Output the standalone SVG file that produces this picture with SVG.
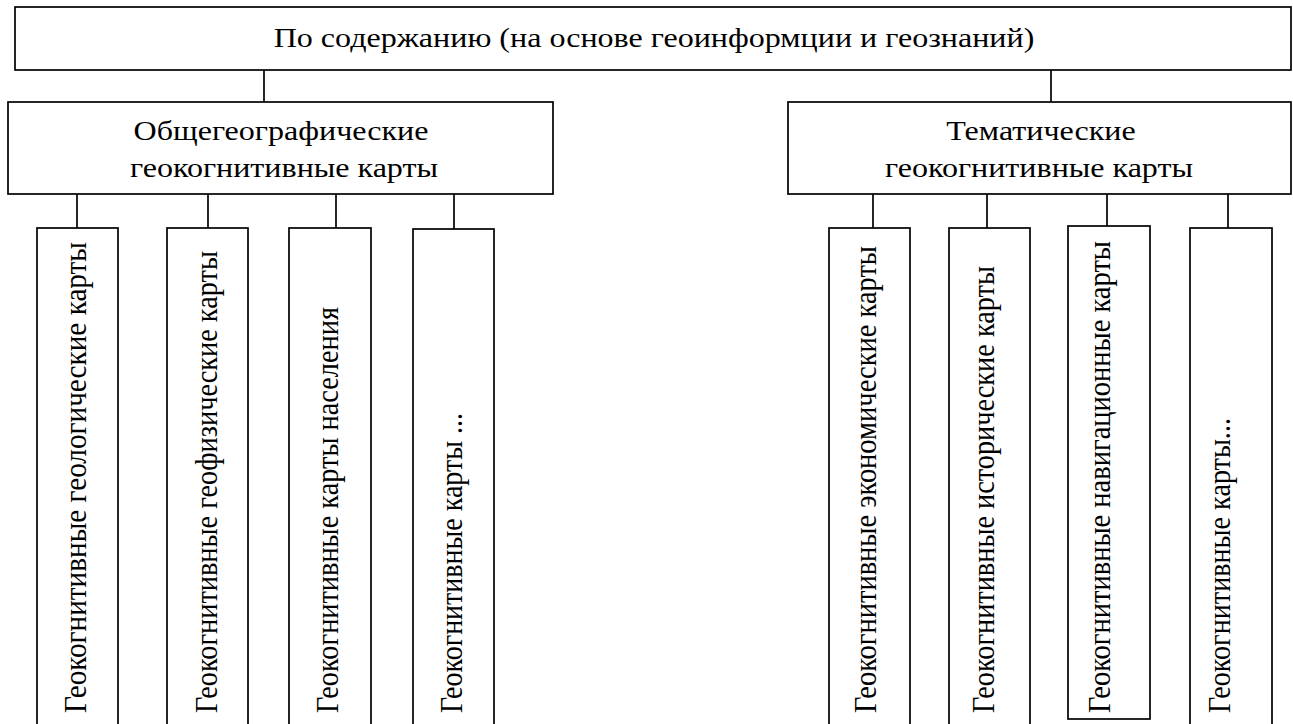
<svg xmlns="http://www.w3.org/2000/svg" width="1293" height="724" viewBox="0 0 1293 724">
<style>
.box{fill:#fff;stroke:#000;stroke-width:1.7}
.ln{stroke:#000;stroke-width:1.7;fill:none}
.t{font-family:"Liberation Serif","Times New Roman",serif;font-size:27px;fill:#000;text-anchor:middle}
.v{font-family:"Liberation Serif","Times New Roman",serif;font-size:28.5px;fill:#000}
</style>
<rect width="1293" height="724" fill="#fff"/>
<g id="connectors">
<line class="ln" x1="264" y1="70" x2="264" y2="102"/>
<line class="ln" x1="1051" y1="70" x2="1051" y2="102"/>
<line class="ln" x1="77" y1="194" x2="77" y2="228"/>
<line class="ln" x1="208" y1="194" x2="208" y2="228"/>
<line class="ln" x1="336" y1="194" x2="336" y2="228"/>
<line class="ln" x1="454" y1="194" x2="454" y2="229"/>
<line class="ln" x1="873" y1="194" x2="873" y2="228"/>
<line class="ln" x1="987" y1="194" x2="987" y2="228"/>
<line class="ln" x1="1107" y1="194" x2="1107" y2="226"/>
<line class="ln" x1="1228" y1="194" x2="1228" y2="228"/>
</g>
<g id="root">
<rect class="box" x="15" y="7" width="1276" height="63"/>
<text class="t" transform="translate(654 47) scale(1.187 1)">По содержанию (на основе геоинформции и геознаний)</text>
</g>
<g id="general">
<rect class="box" x="8" y="102" width="545" height="92"/>
<text class="t" transform="translate(281 140) scale(1.187 1)">Общегеографические</text>
<text class="t" transform="translate(284 177) scale(1.187 1)">геокогнитивные карты</text>
</g>
<g id="thematic">
<rect class="box" x="788" y="102" width="503" height="92"/>
<text class="t" transform="translate(1041 140) scale(1.187 1)">Тематические</text>
<text class="t" transform="translate(1039 177) scale(1.187 1)">геокогнитивные карты</text>
</g>
<g id="leaf1">
<rect class="box" x="37" y="228" width="81" height="510"/>
<text class="v" transform="translate(86 713) rotate(-90) scale(1 1.08)" textLength="471" lengthAdjust="spacingAndGlyphs">Геокогнитивные геологические карты</text>
</g>
<g id="leaf2">
<rect class="box" x="167" y="228" width="81" height="510"/>
<text class="v" transform="translate(217 713) rotate(-90) scale(1 1.08)" textLength="462" lengthAdjust="spacingAndGlyphs">Геокогнитивные геофизические карты</text>
</g>
<g id="leaf3">
<rect class="box" x="289" y="228" width="82" height="510"/>
<text class="v" transform="translate(338 713) rotate(-90) scale(1 1.08)" textLength="406" lengthAdjust="spacingAndGlyphs">Геокогнитивные карты населения</text>
</g>
<g id="leaf4">
<rect class="box" x="413" y="229" width="81" height="510"/>
<text class="v" transform="translate(462 713) rotate(-90) scale(1 1.08)" textLength="300" lengthAdjust="spacingAndGlyphs">Геокогнитивные карты ...</text>
</g>
<g id="leaf5">
<rect class="box" x="829" y="228" width="81" height="510"/>
<text class="v" transform="translate(876 713) rotate(-90) scale(1 1.08)" textLength="467" lengthAdjust="spacingAndGlyphs">Геокогнитивные экономические карты</text>
</g>
<g id="leaf6">
<rect class="box" x="949" y="228" width="81" height="510"/>
<text class="v" transform="translate(994 713) rotate(-90) scale(1 1.08)" textLength="447" lengthAdjust="spacingAndGlyphs">Геокогнитивные исторические карты</text>
</g>
<g id="leaf7">
<rect class="box" x="1068" y="226" width="82" height="493"/>
<text class="v" transform="translate(1110 713) rotate(-90) scale(1 1.08)" textLength="472" lengthAdjust="spacingAndGlyphs">Геокогнитивные навигационные карты</text>
</g>
<g id="leaf8">
<rect class="box" x="1190" y="228" width="82" height="510"/>
<text class="v" transform="translate(1230 713) rotate(-90) scale(1 1.08)" textLength="295" lengthAdjust="spacingAndGlyphs">Геокогнитивные карты...</text>
</g>
</svg>
